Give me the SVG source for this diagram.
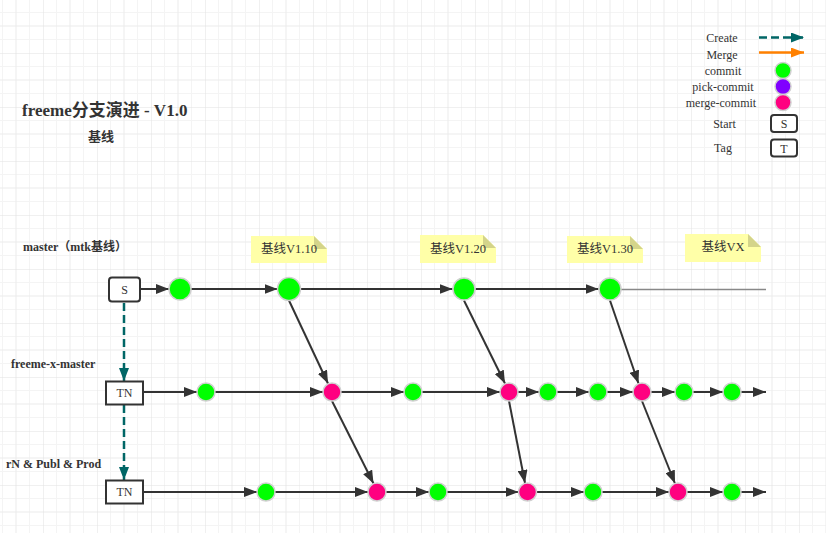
<svg xmlns="http://www.w3.org/2000/svg" width="826" height="533" viewBox="0 0 826 533">
<defs>
<pattern id="grid" patternUnits="userSpaceOnUse" x="-11" y="-1" width="54" height="54">
<rect width="54" height="54" fill="#ffffff"/>
<path d="M13.5 0V54M40.5 0V54M0 13.5H54M0 40.5H54" stroke="#f4f4f4" stroke-width="1"/>
<path d="M27 0V54M0 27H54" stroke="#ececec" stroke-width="1"/>
<path d="M0 0V54M0 0H54" stroke="#e2e2e2" stroke-width="1"/>
</pattern>
<marker id="ah" markerUnits="userSpaceOnUse" markerWidth="14" markerHeight="10" refX="13" refY="5" orient="auto">
<path d="M0 0L13 5L0 10z" fill="#333333"/>
</marker>
<marker id="ahT" markerUnits="userSpaceOnUse" markerWidth="14" markerHeight="10" refX="13" refY="5" orient="auto">
<path d="M0 0L13 5L0 10z" fill="#006666"/>
</marker>
<marker id="ahO" markerUnits="userSpaceOnUse" markerWidth="14" markerHeight="10" refX="13" refY="5" orient="auto">
<path d="M0 0L13 5L0 10z" fill="#ff8000"/>
</marker>
</defs>
<style>
.t{font-family:"Liberation Serif","Noto Sans CJK SC",serif;fill:#333333}
.b{font-weight:bold}
.c{text-anchor:middle}
.g{fill:#00ff00;stroke:#d0d0d0;stroke-width:1.5}
.p{fill:#ff0080;stroke:#d0d0d0;stroke-width:1.5}
.v{fill:#8000ff;stroke:#d0d0d0;stroke-width:1.5}
.ln{stroke:#333333;stroke-width:2;fill:none;marker-end:url(#ah)}
.cr{stroke:#006666;stroke-width:2.5;stroke-dasharray:8 4;fill:none;marker-end:url(#ahT)}
.box{fill:#ffffff;stroke:#333333;stroke-width:2}
.note{fill:#ffffa8}
.fold{fill:#d4d48a}
</style>
<rect width="826" height="533" fill="url(#grid)"/>

<g id="title">
<text class="t b" x="22" y="116" font-size="17">freeme分支演进 - V1.0</text>
<text class="t b" x="88" y="141" font-size="13">基线</text>
</g>

<g id="legend">
<text class="t c" x="722" y="42" font-size="12">Create</text>
<line x1="759" y1="37.5" x2="804" y2="37.5" class="cr"/>
<text class="t c" x="722" y="59" font-size="12">Merge</text>
<line x1="759" y1="52.5" x2="804" y2="52.5" stroke="#ff8000" stroke-width="2.5" marker-end="url(#ahO)"/>
<text class="t c" x="723" y="75" font-size="12">commit</text>
<circle class="g" cx="783" cy="70.5" r="8"/>
<text class="t c" x="723" y="91" font-size="12">pick-commit</text>
<circle class="v" cx="783" cy="86.5" r="8"/>
<text class="t c" x="721" y="107" font-size="12">merge-commit</text>
<circle class="p" cx="783" cy="102.5" r="8"/>
<text class="t c" x="724.5" y="128" font-size="12">Start</text>
<rect class="box" x="771" y="115" width="26" height="17" rx="3"/>
<text class="t c" x="784" y="128" font-size="12">S</text>
<text class="t c" x="723" y="152" font-size="12">Tag</text>
<rect class="box" x="771" y="139.5" width="26" height="17" rx="3"/>
<text class="t c" x="784" y="152.5" font-size="12">T</text>
</g>

<g id="labels">
<text class="t b" x="23" y="251" font-size="12">master（mtk基线）</text>
<text class="t b" x="11" y="368" font-size="12">freeme-x-master</text>
<text class="t b" x="6" y="468" font-size="12">rN &amp; Publ &amp; Prod</text>
</g>

<g id="notes">
<g id="note-v110">
<path class="note" d="M251 236H314L327 249V263H251z"/>
<path class="fold" d="M314 236L327 249H314z"/>
<text class="t c" x="289" y="253" font-size="12.5">基线V1.10</text>
</g>
<g id="note-v120">
<path class="note" d="M420 235H483L496 248V263H420z"/>
<path class="fold" d="M483 235L496 248H483z"/>
<text class="t c" x="458" y="253" font-size="12.5">基线V1.20</text>
</g>
<g id="note-v130">
<path class="note" d="M567 236H630L643 249V263H567z"/>
<path class="fold" d="M630 236L643 249H630z"/>
<text class="t c" x="605" y="253" font-size="12.5">基线V1.30</text>
</g>
<g id="note-vx">
<path class="note" d="M685 234H748L761 247V262H685z"/>
<path class="fold" d="M748 234L761 247H748z"/>
<text class="t c" x="723" y="251" font-size="12.5">基线VX</text>
</g>
</g>

<g id="connectors">
<line class="cr" x1="124" y1="303" x2="124" y2="381"/>
<line class="cr" x1="124" y1="405" x2="124" y2="480"/>
<line class="ln" x1="141" y1="289" x2="169" y2="289"/>
<line class="ln" x1="191" y1="289" x2="277.5" y2="289"/>
<line class="ln" x1="300.5" y1="289" x2="452.5" y2="289"/>
<line class="ln" x1="475.5" y1="289" x2="598.5" y2="289"/>
<line x1="621" y1="289.5" x2="766" y2="289.5" stroke="#888888" stroke-width="1.5"/>
<line class="ln" x1="289" y1="300.5" x2="328" y2="383.5"/>
<line class="ln" x1="464" y1="300.5" x2="505" y2="383.5"/>
<line class="ln" x1="610" y1="300.5" x2="638.5" y2="383.5"/>
<line class="ln" x1="143" y1="392" x2="197" y2="392"/>
<line class="ln" x1="215" y1="392" x2="323" y2="392"/>
<line class="ln" x1="341" y1="392" x2="404" y2="392"/>
<line class="ln" x1="422" y1="392" x2="500" y2="392"/>
<line class="ln" x1="518" y1="392" x2="539" y2="392"/>
<line class="ln" x1="557" y1="392" x2="589" y2="392"/>
<line class="ln" x1="607" y1="392" x2="633" y2="392"/>
<line class="ln" x1="651" y1="392" x2="675" y2="392"/>
<line class="ln" x1="693" y1="392" x2="723" y2="392"/>
<line class="ln" x1="741" y1="392" x2="766" y2="392"/>
<line class="ln" x1="332" y1="401" x2="373.5" y2="483.5"/>
<line class="ln" x1="509" y1="401" x2="525" y2="483"/>
<line class="ln" x1="642" y1="401" x2="675" y2="483.5"/>
<line class="ln" x1="143" y1="492" x2="257" y2="492"/>
<line class="ln" x1="275" y1="492" x2="368" y2="492"/>
<line class="ln" x1="386" y1="492" x2="429" y2="492"/>
<line class="ln" x1="447" y1="492" x2="518.5" y2="492"/>
<line class="ln" x1="536.5" y1="492" x2="584" y2="492"/>
<line class="ln" x1="602" y1="492" x2="669" y2="492"/>
<line class="ln" x1="687" y1="492" x2="723" y2="492"/>
<line class="ln" x1="741" y1="492" x2="766" y2="492"/>
</g>

<g id="master-nodes">
<g id="start-s"><rect class="box" x="109" y="277.5" width="31" height="24" rx="3"/><text class="t c" x="124.5" y="293.5" font-size="12">S</text></g>
<circle id="m1" class="g" cx="180" cy="289" r="11"/>
<circle id="m2" class="g" cx="289" cy="289" r="11.5"/>
<circle id="m3" class="g" cx="464" cy="289" r="11"/>
<circle id="m4" class="g" cx="610" cy="289" r="11"/>
</g>

<g id="xmaster-nodes">
<g id="tn1"><rect class="box" x="106" y="381.5" width="37" height="23"/><text class="t c" x="124.5" y="397" font-size="12">TN</text></g>
<circle id="x1" class="g" cx="206" cy="392" r="9"/>
<circle id="x2" class="p" cx="332" cy="392" r="9"/>
<circle id="x3" class="g" cx="413" cy="392" r="9"/>
<circle id="x4" class="p" cx="509" cy="392" r="9"/>
<circle id="x5" class="g" cx="548" cy="392" r="9"/>
<circle id="x6" class="g" cx="598" cy="392" r="9"/>
<circle id="x7" class="p" cx="642" cy="392" r="9"/>
<circle id="x8" class="g" cx="684" cy="392" r="9"/>
<circle id="x9" class="g" cx="732" cy="392" r="9"/>
</g>

<g id="rn-nodes">
<g id="tn2"><rect class="box" x="106" y="480.5" width="37" height="23"/><text class="t c" x="124.5" y="496" font-size="12">TN</text></g>
<circle id="r1" class="g" cx="266" cy="492" r="9"/>
<circle id="r2" class="p" cx="377" cy="492" r="9"/>
<circle id="r3" class="g" cx="438" cy="492" r="9"/>
<circle id="r4" class="p" cx="527.5" cy="492" r="9"/>
<circle id="r5" class="g" cx="593" cy="492" r="9"/>
<circle id="r6" class="p" cx="678" cy="492" r="9"/>
<circle id="r7" class="g" cx="732" cy="492" r="9"/>
</g>
</svg>
